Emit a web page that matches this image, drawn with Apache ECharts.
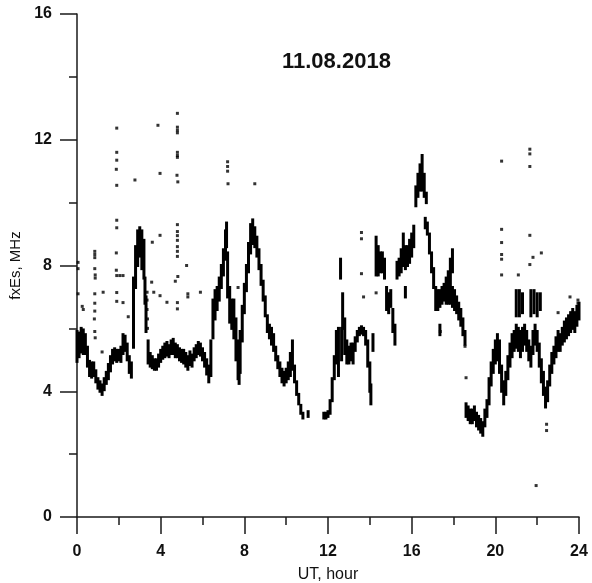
<!DOCTYPE html>
<html>
<head>
<meta charset="utf-8">
<script src="https://cdn.jsdelivr.net/npm/echarts/dist/echarts.min.js"></script>
<style>
  html, body { margin: 0; padding: 0; background: #fff; }
  #chart { width: 592px; height: 583px; }
</style>
</head>
<body>
<div id="chart"></div>
<script>
// axis ticks
const hourTicks = [0, 4, 8, 12, 16, 20, 24];
const freqTicks = [0, 4, 8, 12, 16];

// main trace: [UT hour, lowest fxEs, highest fxEs]
const traceRanges = [
  [0.0, 4.95, 5.9], [0.1, 5.1, 5.85], [0.2, 5.25, 6.0], [0.3, 5.2, 5.95], [0.4, 5.2, 5.8],
  [0.5, 4.8, 5.4], [0.6, 4.5, 4.95], [0.7, 4.45, 4.9], [0.8, 4.5, 4.9], [0.9, 4.3, 4.65],
  [1.0, 4.1, 4.4], [1.1, 4.0, 4.3], [1.2, 3.9, 4.2], [1.3, 4.05, 4.4], [1.4, 4.25, 4.6],
  [1.5, 4.4, 4.85], [1.6, 4.65, 5.1], [1.7, 4.9, 5.3], [1.8, 5.0, 5.35], [1.9, 4.95, 5.3],
  [2.0, 5.0, 5.3], [2.1, 4.95, 5.4], [2.2, 5.2, 5.8], [2.3, 5.3, 5.75], [2.4, 5.0, 5.5],
  [2.5, 4.6, 5.1], [2.6, 4.45, 4.9],
  [2.7, 5.4, 7.6], [2.8, 7.3, 8.6], [2.9, 8.0, 9.1], [3.0, 8.3, 9.2], [3.1, 7.9, 9.1],
  [3.2, 7.6, 8.8], [3.25, 6.8, 7.6], [3.3, 5.9, 7.0], [3.4, 4.9, 5.6],
  [3.5, 4.8, 5.2], [3.6, 4.75, 5.1], [3.7, 4.7, 5.0], [3.8, 4.7, 5.0], [3.9, 4.8, 5.15],
  [4.0, 4.95, 5.3], [4.1, 5.05, 5.4], [4.2, 5.1, 5.5], [4.3, 5.15, 5.55], [4.4, 5.1, 5.45],
  [4.5, 5.2, 5.6], [4.6, 5.2, 5.65], [4.7, 5.1, 5.5], [4.8, 5.1, 5.45], [4.9, 5.0, 5.35],
  [5.0, 4.95, 5.3], [5.1, 4.9, 5.3], [5.2, 4.8, 5.2], [5.3, 4.7, 5.1], [5.4, 4.85, 5.25],
  [5.5, 4.8, 5.15], [5.6, 5.0, 5.35], [5.7, 5.1, 5.45], [5.8, 5.2, 5.55], [5.9, 5.15, 5.5],
  [6.0, 5.0, 5.35], [6.1, 4.8, 5.2], [6.2, 4.55, 5.0], [6.3, 4.3, 4.8], [6.4, 4.5, 5.6],
  [6.5, 5.7, 6.9], [6.6, 6.3, 7.2], [6.7, 6.6, 7.3], [6.8, 6.9, 7.6], [6.9, 7.3, 8.0],
  [7.0, 7.7, 8.5], [7.1, 8.2, 9.1], [7.15, 8.6, 9.35], [7.2, 7.0, 8.4], [7.3, 6.2, 7.3],
  [7.4, 6.0, 6.9], [7.5, 5.7, 6.9], [7.6, 5.0, 6.3], [7.7, 4.4, 5.6], [7.75, 4.25, 4.9],
  [7.8, 4.6, 5.9], [7.9, 5.6, 6.7], [8.0, 6.5, 7.4], [8.1, 7.2, 8.0], [8.2, 7.8, 8.7],
  [8.3, 8.4, 9.3], [8.4, 8.7, 9.45], [8.5, 8.6, 9.2], [8.6, 8.3, 8.9], [8.7, 7.9, 8.5],
  [8.8, 7.4, 8.0], [8.9, 6.9, 7.5], [9.0, 6.4, 7.0], [9.1, 5.9, 6.4], [9.2, 5.7, 6.1],
  [9.3, 5.5, 6.0], [9.4, 5.3, 5.8], [9.5, 5.0, 5.4], [9.6, 4.75, 5.1], [9.7, 4.5, 4.9],
  [9.8, 4.3, 4.7], [9.9, 4.2, 4.6], [10.0, 4.3, 4.7], [10.1, 4.4, 4.9], [10.2, 4.5, 5.2],
  [10.3, 4.7, 5.6], [10.4, 4.3, 4.8], [10.5, 3.9, 4.3], [10.6, 3.6, 3.9], [10.7, 3.3, 3.55],
  [10.8, 3.15, 3.3], [11.05, 3.2, 3.35],
  [11.8, 3.15, 3.3], [11.9, 3.15, 3.3], [12.0, 3.2, 3.35], [12.1, 3.3, 3.7], [12.2, 3.7, 4.4],
  [12.3, 4.4, 5.1], [12.4, 4.9, 5.9], [12.5, 4.5, 6.0], [12.6, 7.6, 8.2], [12.65, 5.0, 6.0],
  [12.7, 6.0, 7.1], [12.8, 5.2, 6.3], [12.9, 4.9, 5.6], [13.0, 4.9, 5.4], [13.1, 5.0, 5.5],
  [13.2, 4.9, 5.5], [13.3, 5.3, 5.7], [13.4, 5.6, 5.9], [13.5, 5.8, 6.0], [13.6, 5.85, 6.05],
  [13.7, 5.8, 6.0], [13.8, 5.5, 5.9], [13.9, 4.8, 5.6], [14.0, 4.0, 4.9], [14.05, 3.6, 4.2],
  [14.15, 5.3, 5.8], [14.3, 7.7, 8.9], [14.4, 7.7, 8.6], [14.5, 7.8, 8.4], [14.6, 7.8, 8.4],
  [14.7, 7.6, 8.2], [14.8, 6.6, 7.3], [14.9, 6.5, 7.1], [15.0, 6.7, 7.2], [15.1, 5.9, 6.6],
  [15.2, 5.5, 6.1], [15.3, 7.6, 8.1], [15.4, 7.7, 8.2], [15.5, 7.8, 8.5], [15.6, 8.0, 9.0],
  [15.7, 7.0, 7.3], [15.7, 7.9, 8.6], [15.8, 8.0, 8.6], [15.9, 8.1, 8.8], [16.0, 8.3, 9.0],
  [16.1, 8.6, 9.25], [16.2, 9.9, 10.5], [16.3, 10.2, 10.9], [16.4, 10.4, 11.2], [16.5, 10.4, 11.5],
  [16.6, 10.2, 10.9], [16.7, 10.0, 10.3], [16.65, 9.2, 9.5], [16.75, 9.0, 9.35], [16.85, 8.4, 9.0],
  [16.95, 7.8, 8.4], [17.05, 7.3, 7.9], [17.15, 6.6, 7.3], [17.25, 6.6, 7.2], [17.35, 5.8, 6.1],
  [17.35, 6.7, 7.2], [17.45, 6.8, 7.3], [17.55, 6.9, 7.4], [17.65, 6.8, 7.6], [17.75, 6.8, 7.8],
  [17.85, 6.8, 8.2], [17.95, 6.7, 7.3], [17.95, 7.8, 8.5], [18.05, 6.6, 7.2], [18.15, 6.5, 7.0],
  [18.25, 6.3, 6.8], [18.35, 6.1, 6.6], [18.45, 5.8, 6.3], [18.55, 5.5, 5.9],
  [18.6, 3.2, 3.6], [18.7, 3.1, 3.5], [18.8, 3.0, 3.4], [18.9, 3.0, 3.4], [19.0, 3.1, 3.5],
  [19.1, 2.9, 3.3], [19.2, 2.8, 3.2], [19.3, 2.7, 3.1], [19.4, 2.6, 3.0], [19.5, 2.9, 3.4],
  [19.6, 3.2, 3.7], [19.7, 3.6, 4.4], [19.8, 4.2, 4.9], [19.9, 4.6, 5.3], [20.0, 4.9, 5.6],
  [20.1, 5.0, 5.8], [20.2, 4.6, 5.6], [20.3, 4.0, 4.8], [20.4, 3.6, 4.3], [20.5, 3.9, 4.6],
  [20.6, 4.4, 5.1], [20.7, 4.8, 5.5], [20.8, 5.1, 5.8], [20.9, 5.3, 5.9], [21.0, 5.4, 6.1],
  [21.1, 5.3, 6.0], [21.2, 5.1, 5.9], [21.3, 5.3, 6.0], [21.4, 5.5, 6.1], [21.5, 5.3, 5.9],
  [21.6, 5.0, 5.6], [21.7, 4.8, 5.4], [21.8, 5.2, 5.9], [21.9, 5.5, 6.1], [22.0, 5.3, 5.9],
  [22.1, 4.8, 5.5], [22.2, 4.3, 5.0], [22.3, 3.9, 4.6], [22.4, 3.5, 4.1], [22.5, 3.7, 4.3],
  [22.6, 4.2, 4.8], [22.7, 4.6, 5.2], [22.8, 4.9, 5.4], [22.9, 5.1, 5.7], [23.0, 5.3, 5.9],
  [23.1, 5.3, 5.8], [23.2, 5.5, 6.0], [23.3, 5.6, 6.2], [23.4, 5.7, 6.3], [23.5, 5.8, 6.4],
  [23.6, 5.9, 6.5], [23.7, 6.0, 6.6], [23.8, 5.9, 6.5], [23.9, 6.1, 6.7], [24.0, 6.3, 6.8],
  // blocks around 7 MHz near 21-22 UT
  [21.0, 6.4, 7.2], [21.15, 6.4, 7.2], [21.3, 6.5, 7.1], [21.7, 6.4, 7.2], [21.85, 6.5, 7.2],
  [22.0, 6.4, 7.1], [22.15, 6.6, 7.1]
];

// isolated soundings: [UT hour, fxEs]
const sparseDots = [
  [0.05, 8.1], [0.05, 7.9], [0.05, 7.1], [0.25, 6.7], [0.3, 6.6],
  [0.85, 8.45], [0.85, 8.35], [0.85, 8.25], [0.85, 7.9], [0.87, 7.7], [0.87, 7.6], [0.85, 7.1],
  [0.85, 6.8], [0.85, 6.55], [0.83, 6.3], [0.85, 5.9], [0.87, 5.7],
  [1.25, 7.15], [1.2, 5.25],
  [1.9, 12.37], [1.9, 11.6], [1.9, 11.35], [1.88, 11.06], [1.9, 10.55], [1.9, 9.44], [1.9, 9.2],
  [1.88, 8.4], [1.88, 7.85], [1.9, 7.68], [1.9, 7.14], [1.9, 6.86],
  [2.05, 7.68], [2.2, 7.68], [2.2, 6.82], [2.45, 6.37],
  [2.77, 10.72], [2.7, 7.3],
  [3.35, 7.15], [3.35, 6.9], [3.35, 6.6], [3.37, 6.3], [3.37, 6.0],
  [3.57, 7.47], [3.6, 8.74], [3.67, 7.15], [3.87, 12.46], [3.97, 10.93], [3.97, 8.96], [3.97, 7.04],
  [4.8, 12.84], [4.8, 12.4], [4.8, 12.3], [4.8, 12.22], [4.8, 11.6], [4.8, 11.5], [4.8, 11.44],
  [4.78, 10.87], [4.82, 10.66], [4.8, 9.3], [4.8, 9.08], [4.8, 8.95], [4.8, 8.8], [4.8, 8.6],
  [4.8, 8.45], [4.8, 8.29], [4.82, 7.65], [4.7, 7.5], [4.8, 6.82], [4.8, 6.62],
  [5.24, 8.0], [5.3, 7.1], [5.3, 7.0], [5.9, 7.15], [4.3, 6.83],
  [7.2, 11.3], [7.2, 11.15], [7.2, 11.0], [7.22, 10.6], [7.7, 7.3], [8.5, 10.6],
  [13.6, 9.05], [13.6, 8.85], [13.6, 7.74], [14.3, 7.13], [13.7, 7.0],
  [17.37, 5.9], [18.55, 5.43], [18.6, 4.43],
  [20.3, 11.32], [20.3, 9.15], [20.3, 8.73], [20.3, 8.35], [20.3, 8.2], [20.3, 7.7],
  [21.1, 7.7], [21.65, 11.7], [21.65, 11.55], [21.65, 11.15], [21.65, 8.96], [21.65, 8.03],
  [21.8, 8.26], [22.2, 8.4], [21.95, 1.0], [22.45, 2.95], [22.45, 2.75],
  [23.0, 6.5], [23.57, 7.0], [23.95, 6.9], [23.95, 6.8]
];

var chartDom = document.getElementById('chart');
var myChart = echarts.init(chartDom, null, { renderer: 'canvas' });

const axisColor = '#1a1a1a';
const labelFont = 'Liberation Sans, Arial, sans-serif';

function renderRange(params, api) {
  const top = api.coord([api.value(0), api.value(2)]);
  const bottom = api.coord([api.value(0), api.value(1)]);
  return {
    type: 'rect',
    shape: { x: top[0] - 1.5, y: top[1] - 1.5, width: 3, height: bottom[1] - top[1] + 3 },
    style: { fill: '#000' }
  };
}

const option = {
  animation: false,
  backgroundColor: '#fff',
  title: {
    text: '11.08.2018',
    left: 277,
    top: 46,
    textStyle: { fontFamily: labelFont, fontSize: 22, fontWeight: 'bold', color: '#111' }
  },
  grid: { left: 77, right: 13, top: 14, bottom: 66, outerBoundsMode: 'none', containLabel: false },
  xAxis: {
    type: 'value',
    min: hourTicks[0],
    max: hourTicks[hourTicks.length - 1],
    interval: 4,
    name: 'UT, hour',
    nameLocation: 'middle',
    nameGap: 50,
    nameTextStyle: { fontFamily: labelFont, fontSize: 16, color: '#111' },
    axisLine: { lineStyle: { color: axisColor, width: 1.5 } },
    axisTick: { length: 17, lineStyle: { color: axisColor, width: 1.5 } },
    minorTick: { show: true, splitNumber: 2, length: 8, lineStyle: { color: axisColor, width: 1.5 } },
    splitLine: { show: false },
    axisLabel: { margin: 27, fontFamily: labelFont, fontSize: 16, fontWeight: 'bold', color: '#111' }
  },
  yAxis: {
    type: 'value',
    min: freqTicks[0],
    max: freqTicks[freqTicks.length - 1],
    interval: 4,
    name: 'fxEs, MHz',
    nameLocation: 'middle',
    nameGap: 52,
    nameTextStyle: { fontFamily: labelFont, fontSize: 15, color: '#111' },
    axisLine: { show: true, lineStyle: { color: axisColor, width: 1.5 } },
    axisTick: { show: true, length: 17, lineStyle: { color: axisColor, width: 1.5 } },
    minorTick: { show: true, splitNumber: 2, length: 8, lineStyle: { color: axisColor, width: 1.5 } },
    splitLine: { show: false },
    axisLabel: { margin: 25, fontFamily: labelFont, fontSize: 16, fontWeight: 'bold', color: '#111' }
  },
  series: [
    {
      type: 'custom',
      renderItem: renderRange,
      encode: { x: 0, y: [1, 2] },
      data: traceRanges,
      clip: false,
      z: 2
    },
    {
      type: 'scatter',
      symbol: 'rect',
      symbolSize: 3,
      itemStyle: { color: '#000' },
      data: sparseDots,
      z: 3
    }
  ]
};

option && myChart.setOption(option);
</script>
</body>
</html>
